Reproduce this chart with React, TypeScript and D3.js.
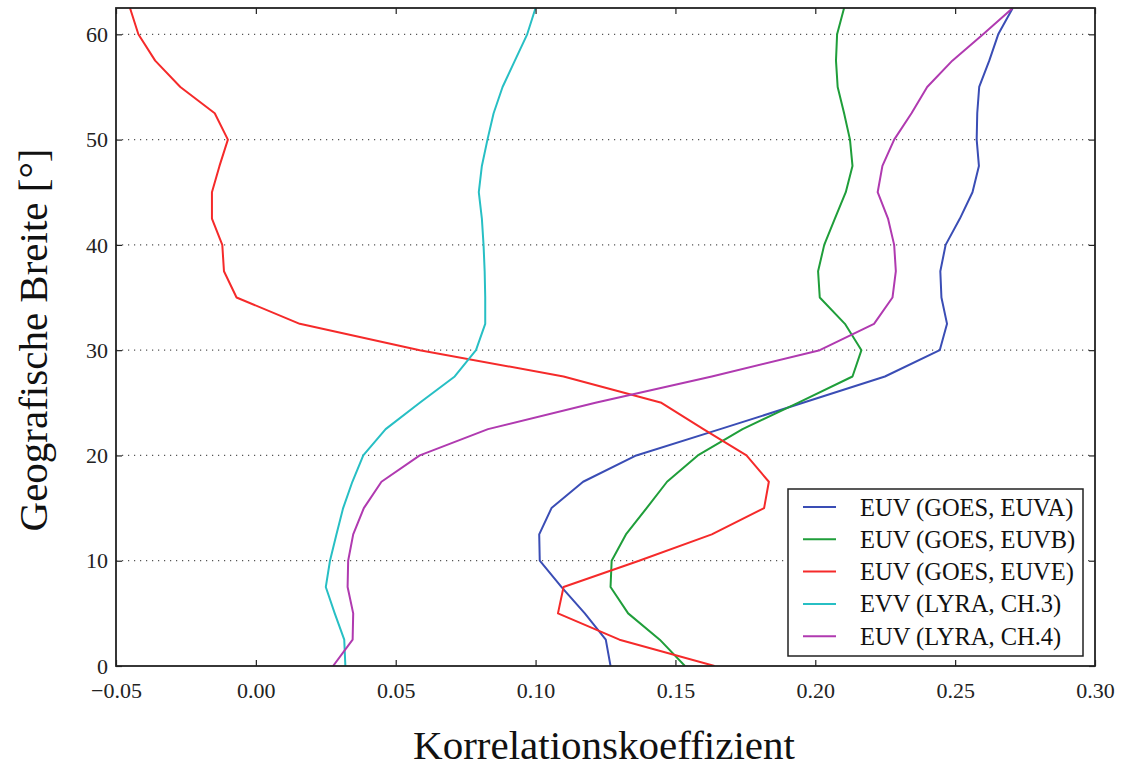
import * as d3 from 'd3';
import { useEffect, useRef } from 'react';

// latitude steps (degrees)
const latitudes = [0, 2.5, 5, 7.5, 10, 12.5, 15, 17.5, 20, 22.5, 25, 27.5, 30, 32.5, 35, 37.5, 40, 42.5, 45, 47.5, 50, 52.5, 55, 57.5, 60, 62.5];

const euva = [0.1268, 0.1251, 0.1176, 0.1093, 0.1015, 0.1013, 0.1057, 0.117, 0.136, 0.166, 0.1956, 0.2249, 0.2445, 0.2471, 0.2451, 0.2447, 0.2466, 0.2517, 0.2562, 0.2585, 0.2577, 0.2579, 0.2586, 0.2622, 0.2654, 0.2706];
const euvb = [0.1534, 0.1444, 0.1331, 0.1268, 0.1272, 0.1323, 0.1397, 0.147, 0.158, 0.174, 0.1938, 0.2133, 0.2165, 0.2106, 0.2016, 0.201, 0.2032, 0.207, 0.2109, 0.2133, 0.2124, 0.2103, 0.208, 0.2074, 0.2078, 0.2103];
const euve = [0.164, 0.130, 0.108, 0.110, 0.137, 0.163, 0.1817, 0.1834, 0.1754, 0.160, 0.145, 0.110, 0.0586, 0.0157, -0.0069, -0.0114, -0.012, -0.0157, -0.0157, -0.013, -0.010, -0.0147, -0.027, -0.036, -0.042, -0.045];
const lyra3 = [0.032, 0.0316, 0.0282, 0.025, 0.0265, 0.0288, 0.0312, 0.0345, 0.0384, 0.0464, 0.0586, 0.0711, 0.0787, 0.082, 0.082, 0.0818, 0.0814, 0.0808, 0.0797, 0.0808, 0.0828, 0.085, 0.0882, 0.0926, 0.097, 0.100];
const lyra4 = [0.0276, 0.0346, 0.0348, 0.0328, 0.033, 0.0348, 0.0386, 0.0449, 0.0586, 0.083, 0.1214, 0.163, 0.2016, 0.221, 0.2276, 0.2288, 0.2282, 0.226, 0.2223, 0.224, 0.2282, 0.2344, 0.240, 0.249, 0.260, 0.2706];

const seriesNames = ['EUV (GOES, EUVA)', 'EUV (GOES, EUVB)', 'EUV (GOES, EUVE)', 'EVV (LYRA, CH.3)', 'EUV (LYRA, CH.4)'];
const seriesColors = ['#3a4db5', '#1f9e3a', '#f52a2a', '#27bfc4', '#b03ab0'];

const xTicks = [-0.05, 0.0, 0.05, 0.1, 0.15, 0.2, 0.25, 0.3];
const yTicks = [0, 10, 20, 30, 40, 50, 60];

export default function App() {
    const ref = useRef(null);

    useEffect(() => {
        document.body.style.margin = '0';
        if (!ref.current) return;
        const svg = d3.select(ref.current);
        svg.selectAll('*').remove();

        const left = 116, right = 1095, top = 8, bottom = 666;
        const font = '"Liberation Serif", serif';

        const x = d3.scaleLinear().domain([-0.05, 0.3]).range([left, right]);
        const y = d3.scaleLinear().domain([0, 62.5]).range([bottom, top]);

        // dotted horizontal grid
        svg.append('g')
            .selectAll('line')
            .data(yTicks.filter(t => t > 0))
            .enter().append('line')
            .attr('x1', left).attr('x2', right)
            .attr('y1', d => y(d)).attr('y2', d => y(d))
            .attr('stroke', '#555')
            .attr('stroke-width', 1.2)
            .attr('stroke-dasharray', '1.2,4.8');

        const allSeries = [euva, euvb, euve, lyra3, lyra4];
        const line = d3.line<number>()
            .x(d => x(d))
            .y((d, i) => y(latitudes[i]));

        svg.append('defs').append('clipPath').attr('id', 'plotclip')
            .append('rect').attr('x', left).attr('y', top)
            .attr('width', right - left).attr('height', bottom - top);

        const lines = svg.append('g').attr('clip-path', 'url(#plotclip)');
        allSeries.forEach((s, i) => {
            lines.append('path')
                .attr('d', line(s))
                .attr('fill', 'none')
                .attr('stroke', seriesColors[i])
                .attr('stroke-width', 2)
                .attr('stroke-linejoin', 'round');
        });

        // axes with inward ticks on all sides
        const tickLen = 6;
        const bottomAxis = d3.axisBottom(x).tickValues(xTicks).tickSizeInner(-tickLen).tickSizeOuter(0)
            .tickFormat(d => d3.format('.2f')(d as number).replace('-', '\u2212'));
        const gb = svg.append('g').attr('transform', `translate(0,${bottom})`).call(bottomAxis);
        gb.selectAll('text').attr('dy', 0).attr('y', 32)
            .attr('font-family', font).attr('font-size', 22).attr('fill', '#222');

        const ga = svg.append('g').attr('transform', `translate(0,${top})`)
            .call(d3.axisTop(x).tickValues(xTicks).tickSizeInner(-tickLen).tickSizeOuter(0).tickFormat(() => ''));

        const leftAxis = d3.axisLeft(y).tickValues(yTicks).tickSizeInner(-tickLen).tickSizeOuter(0);
        const gl = svg.append('g').attr('transform', `translate(${left},0)`).call(leftAxis);
        gl.selectAll('text').attr('x', -8).attr('dy', '0.33em')
            .attr('font-family', font).attr('font-size', 22).attr('fill', '#222');

        const gr = svg.append('g').attr('transform', `translate(${right},0)`)
            .call(d3.axisRight(y).tickValues(yTicks).tickSizeInner(-tickLen).tickSizeOuter(0).tickFormat(() => ''));

        [gb, ga, gl, gr].forEach(g => {
            g.select('.domain').remove();
            g.selectAll('.tick line').attr('stroke', '#222').attr('stroke-width', 1.2);
        });

        svg.append('rect')
            .attr('x', left).attr('y', top)
            .attr('width', right - left).attr('height', bottom - top)
            .attr('fill', 'none').attr('stroke', '#222').attr('stroke-width', 1.8);

        // axis titles
        svg.append('text')
            .attr('x', 604).attr('y', 759)
            .attr('text-anchor', 'middle')
            .attr('font-family', font).attr('font-size', 41).attr('fill', '#111')
            .text('Korrelationskoeffizient');

        svg.append('text')
            .attr('transform', `translate(47,340) rotate(-90)`)
            .attr('text-anchor', 'middle')
            .attr('font-family', font).attr('font-size', 41).attr('fill', '#111')
            .text('Geografische Breite [°]');

        // legend
        const lg = svg.append('g');
        lg.append('rect')
            .attr('x', 788).attr('y', 489).attr('width', 295).attr('height', 167)
            .attr('fill', 'white').attr('stroke', '#222').attr('stroke-width', 1.5);
        seriesNames.forEach((name, i) => {
            const cy = 507 + i * 32.3;
            lg.append('line')
                .attr('x1', 803).attr('x2', 836).attr('y1', cy).attr('y2', cy)
                .attr('stroke', seriesColors[i]).attr('stroke-width', 2);
            lg.append('text')
                .attr('x', 860).attr('y', cy).attr('dy', '0.35em')
                .attr('font-family', font).attr('font-size', 24.5).attr('fill', '#111')
                .text(name);
        });
    }, []);

    return (
        <svg ref={ref} width={1121} height={767} style={{ display: 'block', background: 'white' }} />
    );
}
